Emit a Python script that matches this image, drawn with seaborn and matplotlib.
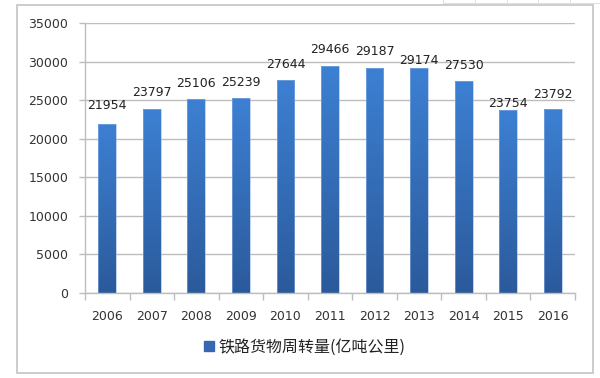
import numpy as np
import pandas as pd
import matplotlib
matplotlib.use("Agg")
import matplotlib.pyplot as plt
import seaborn as sns
from matplotlib.lines import Line2D
from matplotlib.patches import Rectangle
from matplotlib.colors import LinearSegmentedColormap

years = ["2006", "2007", "2008", "2009", "2010", "2011",
         "2012", "2013", "2014", "2015", "2016"]
values = [21954, 23797, 25106, 25239, 27644, 29466,
          29187, 29174, 27530, 23754, 23792]
series_name = "铁路货物周转量(亿吨公里)"
y_ticks = [0, 5000, 10000, 15000, 20000, 25000, 30000, 35000]

# label offsets above bar tops (in points), style only
label_offsets = [13, 12.5, 11.5, 11.5, 11, 11.5, 11.5, 5, 11, 4.5, 11]

sns.set_style("white")
plt.rcParams["font.family"] = ["DejaVu Sans", "Noto Sans CJK SC"]

fig = plt.figure(figsize=(6, 3.78), dpi=100)
ax = fig.add_axes([85 / 600, 1 - 293 / 378, 490 / 600, 270 / 378])

df = pd.DataFrame({"year": years, "value": values})
sns.barplot(data=df, x="year", y="value", color="#3a78c8", width=0.4,
            ax=ax, saturation=1)

ax.set_ylim(0, 35000)
ax.set_xlim(-0.5, len(years) - 0.5)
ax.set_yticks(y_ticks)
ax.set_yticklabels([str(t) for t in y_ticks])
ax.set_xlabel("")
ax.set_ylabel("")

# gradient fill
cmap = LinearSegmentedColormap.from_list("g", ["#2b5a9b", "#3d80d3"])
grad = np.linspace(0, 1, 256).reshape(-1, 1)
for p in list(ax.patches):
    x0, y0 = p.get_x(), p.get_y()
    w, h = p.get_width(), p.get_height()
    im = ax.imshow(grad, cmap=cmap, origin="lower", aspect="auto",
                   extent=[x0, x0 + w, y0, y0 + h], zorder=2,
                   interpolation="bicubic")
    im.set_clip_path(p)
    p.set_facecolor("none")
    p.set_edgecolor("#8fb3e3")
    p.set_linewidth(0.4)
    p.set_zorder(3)
ax.set_xlim(-0.5, len(years) - 0.5)
ax.set_ylim(0, 35000)

# grid
ax.yaxis.grid(True, color="#bdbdbd", linewidth=1.0)
ax.set_axisbelow(True)
for s in ["top", "right"]:
    ax.spines[s].set_visible(False)
ax.spines["left"].set_color("#bdbdbd")
ax.spines["bottom"].set_color("#bdbdbd")
ax.spines["left"].set_linewidth(1.0)
ax.spines["bottom"].set_linewidth(1.0)

ax.tick_params(axis="y", which="both", left=True, length=4, width=1,
               color="#bdbdbd", labelsize=9, labelcolor="#333333", pad=8)
ax.tick_params(axis="x", which="major", bottom=False, labelsize=9,
               labelcolor="#333333", pad=9)
ax.set_xticks(np.arange(-0.5, len(years), 1.0), minor=True)
ax.tick_params(axis="x", which="minor", bottom=True, length=5, width=1,
               color="#bdbdbd")

# value labels
for i, (v, off) in enumerate(zip(values, label_offsets)):
    ax.annotate(str(v), xy=(i, v), xytext=(0, off), textcoords="offset points",
                ha="center", va="center", fontsize=9, color="#222222")

# legend
handle = Line2D([], [], marker="s", linestyle="none", markersize=6.5,
                markerfacecolor="#3568b0", markeredgecolor="#3568b0")
fig.legend([handle], [series_name], loc="center",
           bbox_to_anchor=(0.507, 1 - 347 / 378), frameon=False,
           prop={"family": ["Noto Sans CJK SC", "DejaVu Sans"], "size": 11.5},
           handletextpad=0.2, handlelength=0.8, labelcolor="#222222")

# outer chart border
fig.add_artist(Rectangle((17 / 600, 1 - 373 / 378), 576 / 600, 368 / 378,
                         transform=fig.transFigure, fill=False,
                         edgecolor="#c4c4c4", linewidth=1.2))
# spreadsheet cells peeking at top-right
fig.add_artist(Line2D([443 / 600, 1], [1 - 3 / 378, 1 - 3 / 378],
                      transform=fig.transFigure, color="#e0e0e0", linewidth=0.8))
for xc in [443, 475, 507, 538, 570]:
    fig.add_artist(Line2D([xc / 600, xc / 600], [1 - 3 / 378, 1],
                          transform=fig.transFigure, color="#e0e0e0",
                          linewidth=0.8))

fig.savefig("out.png", dpi=100)
